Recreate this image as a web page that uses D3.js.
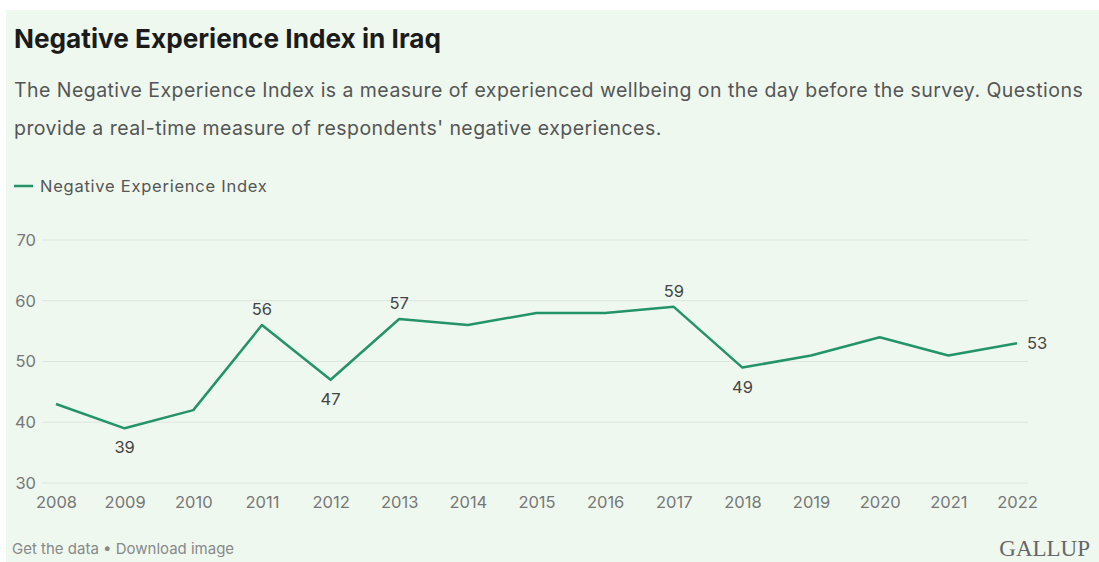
<!DOCTYPE html>
<html>
<head>
<meta charset="utf-8">
<script src="https://cdn.jsdelivr.net/npm/d3@7"></script>
<style>
  body { margin: 0; background: #fff; }
  svg { display: block; font-family: Inter, "Noto Sans", sans-serif; }
</style>
</head>
<body>
<div id="chart"></div>
<script>
// data
const years = [2008, 2009, 2010, 2011, 2012, 2013, 2014, 2015, 2016, 2017, 2018, 2019, 2020, 2021, 2022]
const negIndex = [43, 39, 42, 56, 47, 57, 56, 58, 58, 59, 49, 51, 54, 51, 53]
const yTicks = [30, 40, 50, 60, 70]
// which points get a value label, and where
const labelled = {2009: "below", 2011: "above", 2012: "below", 2013: "above", 2017: "above", 2018: "below", 2022: "right"}

const W = 1099, H = 562
const margin = {top: 240, right: 82, bottom: 79, left: 56}
const lineColor = "#24936a"

const svg = d3.select("#chart").append("svg")
    .attr("width", W)
    .attr("height", H)

// card background
svg.append("rect")
    .attr("x", 6).attr("y", 10)
    .attr("width", W - 6).attr("height", H - 10)
    .attr("fill", "#eef8ef")

// title + subtitle
svg.append("text")
    .attr("x", 14).attr("y", 48)
    .attr("font-size", 26.2).attr("font-weight", 700)
    .attr("fill", "#1b1b1b")
    .text("Negative Experience Index in Iraq")

const sub = ["The Negative Experience Index is a measure of experienced wellbeing on the day before the survey. Questions",
    "provide a real-time measure of respondents' negative experiences."]
svg.selectAll(".sub").data(sub).join("text")
    .attr("class", "sub")
    .attr("x", 14)
    .attr("y", (d, i) => 97 + i * 38)
    .attr("font-size", 19.5)
    .attr("letter-spacing", 0.45)
    .attr("fill", "#555")
    .text(d => d)

// legend
svg.append("line")
    .attr("x1", 14).attr("x2", 33)
    .attr("y1", 186).attr("y2", 186)
    .attr("stroke", lineColor).attr("stroke-width", 2.5)
svg.append("text")
    .attr("x", 40).attr("y", 192)
    .attr("font-size", 16.5).attr("letter-spacing", 0.75)
    .attr("fill", "#555")
    .text("Negative Experience Index")

// scales
const x = d3.scalePoint()
    .domain(years)
    .range([margin.left, W - margin.right])

const y = d3.scaleLinear()
    .domain([30, 70])
    .range([H - margin.bottom, margin.top])

// gridlines
svg.append("g")
    .selectAll("line")
    .data(yTicks)
    .join("line")
    .attr("x1", 42).attr("x2", 1028)
    .attr("y1", d => y(d)).attr("y2", d => y(d))
    .attr("stroke", "#dde6de").attr("stroke-width", 1)

// y axis labels
const yAxis = d3.axisLeft(y).tickValues(yTicks).tickSize(0).tickPadding(0)
svg.append("g")
    .attr("transform", "translate(36,0)")
    .call(yAxis)
    .call(g => g.select(".domain").remove())
    .call(g => g.selectAll("text")
        .attr("font-size", 16.5).attr("fill", "#777")
        .attr("font-family", "Inter, sans-serif"))

// x axis labels
const xAxis = d3.axisBottom(x).tickSize(0).tickPadding(13)
svg.append("g")
    .attr("transform", `translate(0,${y(30)})`)
    .call(xAxis)
    .call(g => g.select(".domain").remove())
    .call(g => g.selectAll("text")
        .attr("font-size", 16.5).attr("fill", "#777")
        .attr("font-family", "Inter, sans-serif"))

// the line
const line = d3.line()
    .x((d, i) => x(years[i]))
    .y(d => y(d))

svg.append("path")
    .datum(negIndex)
    .attr("fill", "none")
    .attr("stroke", lineColor)
    .attr("stroke-width", 2.5)
    .attr("stroke-linejoin", "round")
    .attr("d", line)

// value labels
const lab = years.map((yr, i) => ({yr, v: negIndex[i], pos: labelled[yr]})).filter(d => d.pos)
svg.append("g")
    .selectAll("text")
    .data(lab)
    .join("text")
    .attr("x", d => d.pos === "right" ? x(d.yr) + 10 : x(d.yr))
    .attr("y", d => d.pos === "above" ? y(d.v) - 10 : d.pos === "below" ? y(d.v) + 25 : y(d.v) + 6)
    .attr("text-anchor", d => d.pos === "right" ? "start" : "middle")
    .attr("font-size", 16.5)
    .attr("fill", "#444")
    .text(d => d.v)

// footer
svg.append("text")
    .attr("x", 12).attr("y", 554)
    .attr("font-size", 15).attr("fill", "#888")
    .text("Get the data \u2022 Download image")

svg.append("text")
    .attr("x", 1090).attr("y", 556)
    .attr("text-anchor", "end")
    .attr("font-family", "'Liberation Serif', serif")
    .attr("font-size", 23).attr("fill", "#666")
    .text("GALLUP")
</script>
</body>
</html>
